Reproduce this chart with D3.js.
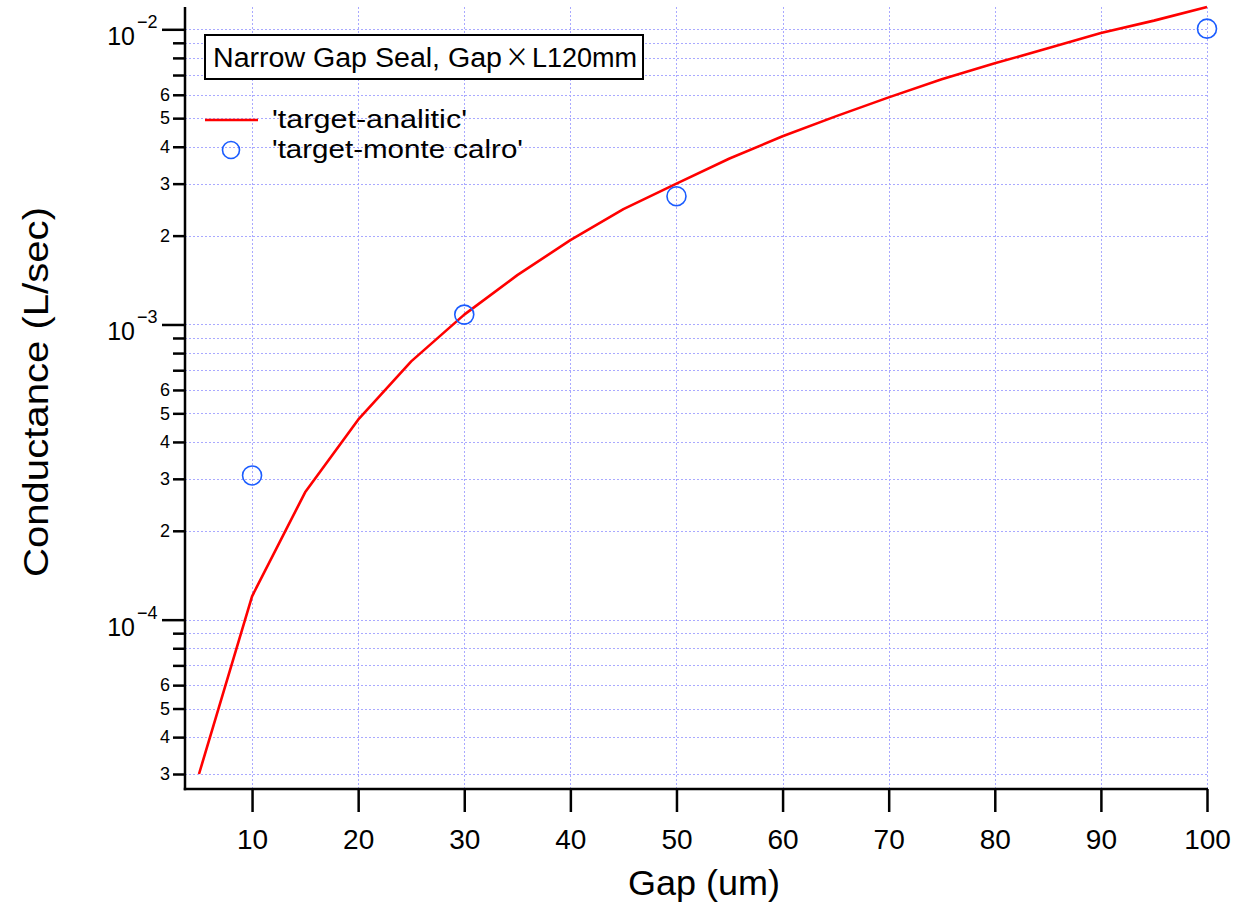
<!DOCTYPE html>
<html>
<head>
<meta charset="utf-8">
<script src="https://cdn.jsdelivr.net/npm/d3@7"></script>
<style>
  html, body { margin: 0; padding: 0; background: #fff; }
  svg { display: block; }
  text { font-family: "Liberation Sans", Arial, "Noto Sans CJK JP", sans-serif; fill: #000; }
</style>
</head>
<body>
<svg id="chart" width="1250" height="903"></svg>
<script>
// ---- data ----
const gapLine = [5, 10, 15, 20, 25, 30, 35, 40, 45, 50, 55, 60, 65, 70, 75, 80, 85, 90, 95, 100];
const condLine = [3.0e-5, 1.2e-4, 2.7e-4, 4.76e-4, 7.5e-4, 1.08e-3, 1.47e-3, 1.93e-3, 2.46e-3, 3.0e-3,
                  3.65e-3, 4.34e-3, 5.07e-3, 5.88e-3, 6.77e-3, 7.67e-3, 8.62e-3, 9.72e-3, 1.07e-2, 1.19e-2];
const gapMC = [10, 30, 50, 100];
const condMC = [3.08e-4, 1.08e-3, 2.72e-3, 1.005e-2];
const xTicks = [10, 20, 30, 40, 50, 60, 70, 80, 90, 100];
const yDecades = [-5, -4, -3, -2];
const yMinorLabeled = [2, 3, 4, 5, 6];
const titleParts = ["Narrow Gap Seal, Gap", "\u00D7", "L120mm"];
const seriesNames = ["'target-analitic'", "'target-monte calro'"];
const xTitle = "Gap (um)";
const yTitle = "Conductance (L/sec)";

// ---- layout ----
const plotL = 199, plotR = 1207, plotT = 7, plotB = 774;
const axisX = 185, axisY = 789;

const svg = d3.select("#chart");

const x = d3.scaleLinear().domain(d3.extent(gapLine)).range([plotL, plotR]);
const y = d3.scaleLog().domain(d3.extent(condLine)).range([plotB, plotT]);

// y tick values
const [yLo, yHi] = y.domain();
const yMajor = [], yMinor = [];
yDecades.forEach(d => {
  for (let m = 1; m <= 9; m++) {
    const v = m * Math.pow(10, d);
    if (v >= yLo * 0.9999 && v <= yHi * 1.0001) {
      if (m === 1) yMajor.push(v); else yMinor.push({v, m});
    }
  }
});

// ---- grid ----
const grid = svg.append("g").attr("stroke", "#8585ff").attr("stroke-width", 1)
  .attr("stroke-dasharray", "2,2").attr("opacity", 0.7);
grid.selectAll("line.vx").data(xTicks).join("line")
  .attr("x1", d => Math.round(x(d)) + 0.5).attr("x2", d => Math.round(x(d)) + 0.5)
  .attr("y1", plotT).attr("y2", axisY);
grid.selectAll("line.hy").data(yMajor.concat(yMinor.map(o => o.v))).join("line")
  .attr("x1", axisX).attr("x2", plotR)
  .attr("y1", d => Math.round(y(d)) + 0.5).attr("y2", d => Math.round(y(d)) + 0.5);

// ---- axes ----
const xAxis = d3.axisBottom(x).tickValues(xTicks).tickSize(23).tickSizeOuter(0).tickFormat(d3.format("d")).tickPadding(17);
const gx = svg.append("g").attr("transform", `translate(0,${axisY})`).call(xAxis);
gx.select(".domain").remove();
gx.selectAll(".tick line").attr("stroke", "#000").attr("stroke-width", 2.5);
gx.selectAll(".tick text").attr("font-size", 28).attr("fill", "#000")
  .style("font-family", "'Liberation Sans', Arial, sans-serif");

const yAxisMajor = d3.axisLeft(y).tickValues(yMajor).tickSize(23).tickSizeOuter(0).tickFormat("");
const gyM = svg.append("g").attr("transform", `translate(${axisX},0)`).call(yAxisMajor);
gyM.select(".domain").remove();
gyM.selectAll(".tick line").attr("stroke", "#000").attr("stroke-width", 2.5);

const yAxisMinor = d3.axisLeft(y).tickValues(yMinor.map(o => o.v)).tickSize(12).tickSizeOuter(0)
  .tickPadding(3)
  .tickFormat(v => {
    const m = Math.round(v / Math.pow(10, Math.floor(Math.log10(v) + 1e-9)));
    return yMinorLabeled.includes(m) ? String(m) : "";
  });
const gym = svg.append("g").attr("transform", `translate(${axisX},0)`).call(yAxisMinor);
gym.select(".domain").remove();
gym.selectAll(".tick line").attr("stroke", "#000").attr("stroke-width", 2.5);
gym.selectAll(".tick text").attr("font-size", 18).attr("fill", "#000")
  .style("font-family", "'Liberation Sans', Arial, sans-serif");

// major labels 10^n
const maj = svg.append("g");
yMajor.forEach(v => {
  const py = y(v);
  const e = Math.round(Math.log10(v));
  maj.append("text").attr("x", 135).attr("y", py + 16).attr("text-anchor", "end")
    .attr("font-size", 25).text("10");
  maj.append("text").attr("x", 137).attr("y", py - 1).attr("font-size", 18)
    .text("\u2212" + Math.abs(e));
});

// axis lines
svg.append("line").attr("x1", axisX).attr("x2", axisX).attr("y1", plotT).attr("y2", axisY + 1.25)
  .attr("stroke", "#000").attr("stroke-width", 2.5);
svg.append("line").attr("x1", axisX - 1.25).attr("x2", plotR + 1).attr("y1", axisY).attr("y2", axisY)
  .attr("stroke", "#000").attr("stroke-width", 2.5);

// ---- series ----
const lineData = gapLine.map((g, i) => [g, condLine[i]]);
svg.append("path").datum(lineData)
  .attr("fill", "none").attr("stroke", "#ff0000").attr("stroke-width", 2.6)
  .attr("stroke-linejoin", "round")
  .attr("d", d3.line().x(d => x(d[0])).y(d => y(d[1])));

svg.append("g").selectAll("circle").data(gapMC.map((g, i) => [g, condMC[i]])).join("circle")
  .attr("cx", d => x(d[0])).attr("cy", d => y(d[1])).attr("r", 9.5)
  .attr("fill", "none").attr("stroke", "#1a5cff").attr("stroke-width", 1.6);

// ---- title box / legend ----
svg.append("rect").attr("x", 205).attr("y", 35).attr("width", 438).attr("height", 44)
  .attr("fill", "#fff").attr("stroke", "#000").attr("stroke-width", 2);
const tt = svg.append("text").attr("y", 67).attr("font-size", 27);
tt.append("tspan").attr("x", 213).attr("textLength", 289).attr("lengthAdjust", "spacingAndGlyphs").text(titleParts[0]);
tt.append("tspan").attr("x", 505).attr("textLength", 24).attr("lengthAdjust", "spacingAndGlyphs")
  .style("font-family", "'Noto Sans CJK JP', sans-serif").text(titleParts[1]);
tt.append("tspan").attr("x", 532).attr("textLength", 105).attr("lengthAdjust", "spacingAndGlyphs").text(titleParts[2]);

svg.append("line").attr("x1", 205).attr("x2", 258).attr("y1", 120).attr("y2", 120)
  .attr("stroke", "#ff0000").attr("stroke-width", 2.5);
svg.append("text").attr("x", 272).attr("y", 128).attr("font-size", 25)
  .attr("textLength", 195).attr("lengthAdjust", "spacingAndGlyphs").text(seriesNames[0]);
svg.append("circle").attr("cx", 231).attr("cy", 150).attr("r", 8.5)
  .attr("fill", "none").attr("stroke", "#1a5cff").attr("stroke-width", 1.6);
svg.append("text").attr("x", 272).attr("y", 158).attr("font-size", 25)
  .attr("textLength", 251).attr("lengthAdjust", "spacingAndGlyphs").text(seriesNames[1]);

// ---- axis titles ----
svg.append("text").attr("x", 628).attr("y", 895).attr("font-size", 35)
  .attr("textLength", 152).attr("lengthAdjust", "spacingAndGlyphs").text(xTitle);
svg.append("text").attr("transform", "translate(48,392) rotate(-90)")
  .attr("text-anchor", "middle").attr("font-size", 35)
  .attr("textLength", 370).attr("lengthAdjust", "spacingAndGlyphs").text(yTitle);
</script>
</body>
</html>
